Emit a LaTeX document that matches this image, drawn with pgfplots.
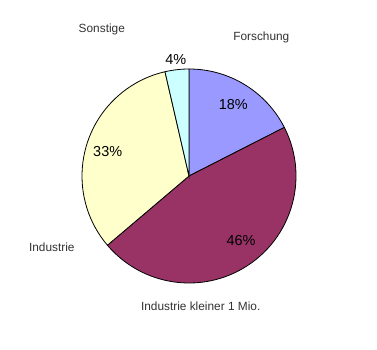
\documentclass[border=0pt]{standalone}
\usepackage{pgfplots}
\usepackage{pgfplotstable}
\pgfplotsset{compat=1.18}
\usepackage{fontspec}
\setmainfont{Liberation Sans}
\definecolor{cF}{HTML}{9999FF}
\definecolor{cK}{HTML}{993366}
\definecolor{cI}{HTML}{FFFFCC}
\definecolor{cS}{HTML}{CCFFFF}
\definecolor{lbl}{HTML}{333333}

\pgfplotstableread{
name val
Forschung 17.5
Kleiner 46.3
Industrie 32.6
Sonstige 3.6
}\piedata

\begin{document}
\begin{tikzpicture}
\pgfplotstablegetelem{0}{val}\of\piedata \let\vA\pgfplotsretval
\pgfplotstablegetelem{1}{val}\of\piedata \let\vB\pgfplotsretval
\pgfplotstablegetelem{2}{val}\of\piedata \let\vC\pgfplotsretval
\pgfplotstablegetelem{3}{val}\of\piedata \let\vD\pgfplotsretval
\pgfmathsetmacro\aA{90}
\pgfmathsetmacro\aB{\aA-3.6*\vA}
\pgfmathsetmacro\aC{\aB-3.6*\vB}
\pgfmathsetmacro\aD{\aC-3.6*\vC}
\pgfmathsetmacro\aE{\aD-3.6*\vD}
\begin{axis}[width=377bp,height=350bp,scale only axis,
  xmin=0,xmax=377,ymin=0,ymax=350,hide axis,clip=false]
\fill[white] (axis cs:0,0) rectangle (axis cs:377,350);
\filldraw[fill=cF,draw=black,line width=0.8bp] (axis cs:189,174) -- ++(\aA:107bp) arc[start angle=\aA,end angle=\aB,radius=107bp] -- cycle;
\filldraw[fill=cK,draw=black,line width=0.8bp] (axis cs:189,174) -- ++(\aB:107bp) arc[start angle=\aB,end angle=\aC,radius=107bp] -- cycle;
\filldraw[fill=cI,draw=black,line width=0.8bp] (axis cs:189,174) -- ++(\aC:107bp) arc[start angle=\aC,end angle=\aD,radius=107bp] -- cycle;
\filldraw[fill=cS,draw=black,line width=0.8bp] (axis cs:189,174) -- ++(\aD:107bp) arc[start angle=\aD,end angle=\aE,radius=107bp] -- cycle;
% percentage labels
\node[anchor=base,font=\fontsize{14.5}{17}\selectfont] at (axis cs:233.3,240.5) {18\%};
\node[anchor=base,font=\fontsize{14.5}{17}\selectfont] at (axis cs:241,104.1) {46\%};
\node[anchor=base,font=\fontsize{14.5}{17}\selectfont] at (axis cs:107.7,193.1) {33\%};
\node[anchor=base,font=\fontsize{14.5}{17}\selectfont] at (axis cs:175.7,285.8) {4\%};
% category labels
\node[anchor=base,font=\fontsize{11.9}{14}\selectfont,text=lbl] at (axis cs:101.8,318) {Sonstige};
\node[anchor=base,font=\fontsize{11.9}{14}\selectfont,text=lbl] at (axis cs:261.3,310) {Forschung};
\node[anchor=base,font=\fontsize{11.9}{14}\selectfont,text=lbl] at (axis cs:51.8,99) {Industrie};
\node[anchor=base,font=\fontsize{11.9}{14}\selectfont,text=lbl] at (axis cs:200.7,40) {Industrie kleiner 1 Mio.};
\end{axis}
\end{tikzpicture}
\end{document}
